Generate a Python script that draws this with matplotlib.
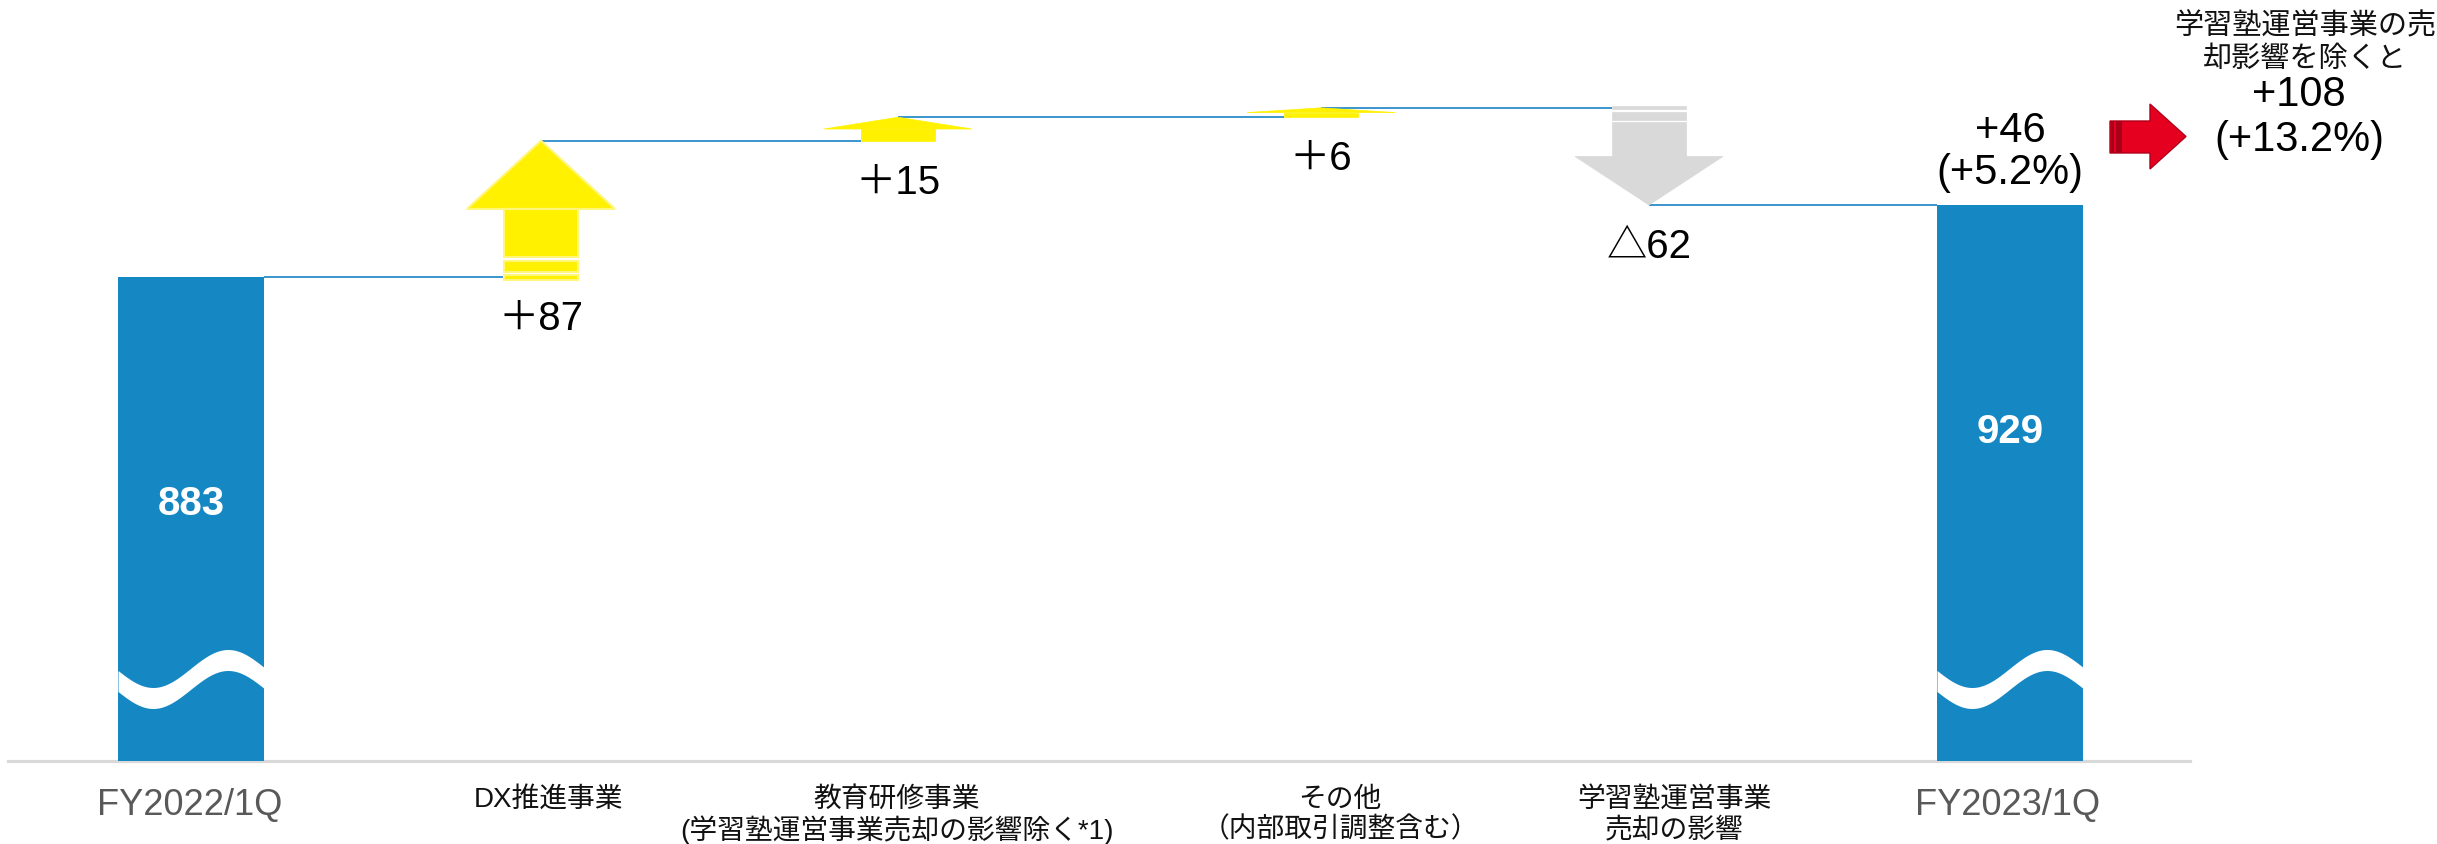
import numpy as np
import matplotlib
matplotlib.use("Agg")
import matplotlib.pyplot as plt
from matplotlib.patches import Polygon, Rectangle
from matplotlib.transforms import Affine2D

# ---- data ----
categories = [
    "FY2022/1Q",
    "DX推進事業",
    "教育研修事業\n(学習塾運営事業売却の影響除く*1)",
    "その他\n（内部取引調整含む）",
    "学習塾運営事業\n売却の影響",
    "FY2023/1Q",
]
start_value = 883
end_value = 929
changes = [87, 15, 6, -62]
change_labels = ["＋87", "＋15", "＋6", "△62"]
total_change_label = "+46\n(+5.2%)"
adjusted_note = "学習塾運営事業の売\n却影響を除くと"
adjusted_change_label = "+108\n(+13.2%)"

# ---- layout ----
W, H, DPI = 2437, 845, 100
centers = [191, 541, 898, 1321, 1649, 2010]
label_x = [190, 549, 897, 1340, 1674, 2008]
bar_width = 146
head_width = 148
shaft_width = 74

# vertical scale: value -> pixel row (linear, broken axis at the bottom)
px_per_unit = 1.567
ref_value, ref_row = 951.6, 170.6
y_top = ref_value + ref_row / px_per_unit
y_bottom = ref_value - (H - ref_row) / px_per_unit
baseline = ref_value - (762 - ref_row) / px_per_unit

BLUE = "#1588C4"
STEP = "#2B8CCB"
YELLOW = "#FFF100"
YELLOW_EDGE = "#FFF67A"
GREY_ARROW = "#D9D9D9"
SANS = ["Liberation Sans", "Noto Sans CJK JP"]

fig = plt.figure(figsize=(W / DPI, H / DPI), dpi=DPI)
ax = fig.add_axes([0, 0, 1, 1])
ax.set_xlim(0, W)
ax.set_ylim(y_bottom, y_top)
ax.axis("off")

# pixel-space transform for decorations
px = Affine2D().scale(1 / W, -1 / H).translate(0, 1) + ax.transAxes
pt_per_px = 72 / DPI

levels = np.concatenate([[start_value], start_value + np.cumsum(changes)])

# ---- total bars ----
ax.bar([centers[0], centers[-1]], [start_value - baseline, end_value - baseline],
       bottom=baseline, width=bar_width, color=BLUE, zorder=2)

# wave break across each total bar
for xc in (centers[0], centers[-1]):
    x0 = xc - bar_width / 2
    xs = np.linspace(x0, x0 + bar_width, 200)
    mid = 680 + 19 * np.cos(2 * np.pi * (xs - (x0 + 35)) / 150)
    ax.fill_between(xs, mid - 10.5, mid + 10.5, color="white", lw=0,
                    transform=px, zorder=3)

# bar value labels
for xc, val in ((centers[0], start_value), (centers[-1], end_value)):
    ax.annotate(f"{val}", (xc, val), xytext=(0, -226 * pt_per_px),
                textcoords="offset points", color="white", fontsize=29,
                fontweight="bold", ha="center", va="center",
                family="Liberation Sans", zorder=4)


def arrow_parts(xc, v0, v1, striped):
    """Polygons of a block arrow from level v0 to level v1."""
    d = np.sign(v1 - v0)
    h = abs(v1 - v0)

    def at(t):
        return v1 - d * t * h

    parts = [[(xc - head_width / 2, at(0.5)), (xc, at(0.0)),
              (xc + head_width / 2, at(0.5))]]
    sw = shaft_width / 2
    spans = [(0.5, 0.85), (0.88, 0.96), (0.985, 1.02)] if striped else [(0.5, 1.0)]
    for a, b in spans:
        parts.append([(xc - sw, at(a)), (xc + sw, at(a)),
                      (xc + sw, at(b)), (xc - sw, at(b))])
    return parts


arrow_styles = [
    dict(fc=YELLOW, ec=YELLOW_EDGE, lw=1.5, striped=True),
    dict(fc=YELLOW, ec=YELLOW, lw=0.5, striped=False),
    dict(fc=YELLOW, ec=YELLOW, lw=0.5, striped=False),
    dict(fc=GREY_ARROW, ec=GREY_ARROW, lw=0.5, striped=True),
]

for i, (chg, lab, st) in enumerate(zip(changes, change_labels, arrow_styles)):
    xc = centers[i + 1]
    v0, v1 = levels[i], levels[i + 1]
    for poly in arrow_parts(xc, v0, v1, st["striped"]):
        ax.add_patch(Polygon(poly, closed=True, fc=st["fc"], ec=st["ec"],
                             lw=st["lw"], zorder=2))
    ax.annotate(lab, (xc, min(v0, v1)), xytext=(0, -41 * pt_per_px),
                textcoords="offset points", ha="center", va="center",
                fontsize=29, family=SANS, color="black")

# ---- connector lines between steps ----
right_anchor = [centers[0] + bar_width / 2] + centers[1:5]
left_anchor = [c - shaft_width / 2 for c in centers[1:5]] + [centers[-1] - bar_width / 2]
for i in range(5):
    ax.plot([right_anchor[i], left_anchor[i]], [levels[i], levels[i]],
            color=STEP, lw=1.3, zorder=1, solid_capstyle="butt")

# ---- baseline ----
ax.plot([8, 2190], [baseline, baseline], color="#D9D9D9", lw=2.3, zorder=1)

# ---- category labels ----
for i, (lx, cat) in enumerate(zip(label_x, categories)):
    if i in (0, len(categories) - 1):
        ax.text(lx, 806, cat, transform=px, ha="center", va="center",
                fontsize=26, family=SANS, color="#595959")
    else:
        for j, line in enumerate(cat.split("\n")):
            ax.text(lx, 800 + 30 * j, line, transform=px, ha="center",
                    va="center", fontsize=20, family=SANS, color="#111111")

# ---- total change above the final bar ----
for j, line in enumerate(total_change_label.split("\n")):
    ax.annotate(line, (centers[-1], end_value),
                xytext=(0, (75 - 42 * j) * pt_per_px),
                textcoords="offset points", ha="center", va="center",
                fontsize=30, family=SANS, color="black")

# ---- note on the right ----
red_arrow = [(2110, 122), (2150, 122), (2150, 105), (2186, 137.5),
             (2150, 170), (2150, 154), (2110, 154)]
ax.add_patch(Polygon(red_arrow, closed=True, fc="#E60020", ec="#B0001A",
                     lw=1.0, transform=px, zorder=2))
for xa, wa in ((2111, 3), (2116, 6)):
    ax.add_patch(Rectangle((xa, 122), wa, 32, fc="#A80018", lw=0,
                           transform=px, zorder=3))

for j, line in enumerate(adjusted_note.split("\n")):
    ax.text(2305, 26 + 33 * j, line, transform=px, ha="center", va="center",
            fontsize=21, family=SANS, color="#111111")
for j, line in enumerate(adjusted_change_label.split("\n")):
    ax.text(2299, 95 + 45 * j, line, transform=px, ha="center", va="center",
            fontsize=30, family=SANS, color="black")

fig.savefig("out.png", dpi=DPI)
